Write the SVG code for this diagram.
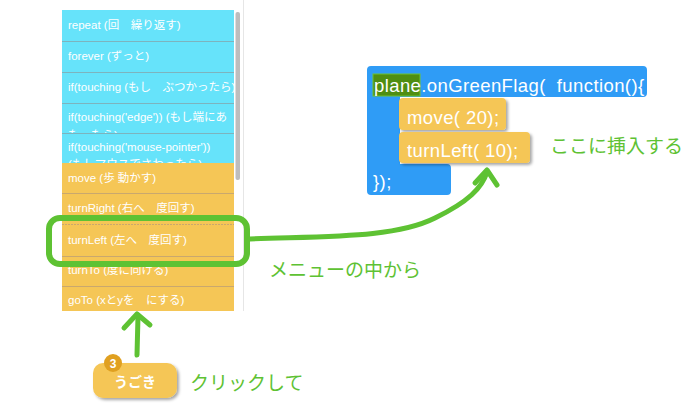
<svg xmlns="http://www.w3.org/2000/svg" width="700" height="411" viewBox="0 0 700 411">
<defs>
<style>
.mt{font-family:"Liberation Sans","Noto Sans CJK JP",sans-serif;font-size:11.5px;fill:#ffffff}
.cy{fill:#66e3fa}
.og{fill:#f5c656}
.cyl{stroke:#7db3bd;stroke-width:1}
.ogl{stroke:#c9a86e;stroke-width:1}
.code{font-family:"Liberation Sans","Noto Sans CJK JP",sans-serif;font-size:18.5px;letter-spacing:0.4px;fill:#ffffff}
.gl{font-family:"Noto Sans CJK JP","Liberation Sans",sans-serif;font-size:19px;fill:#5ec233}
.pen{fill:none;stroke:#5ec233;stroke-width:5;stroke-linecap:round;stroke-linejoin:round}
</style>
<filter id="sh" x="-20%" y="-20%" width="150%" height="160%">
<feDropShadow dx="2" dy="2" stdDeviation="1.5" flood-color="#000" flood-opacity="0.35"/>
</filter>
</defs>
<rect width="700" height="411" fill="#ffffff"/>

<g id="menu">
<rect x="243" y="0" width="1" height="311" fill="#e6e6e6"/>
<g id="row-repeat"><rect class="cy" x="62" y="10" width="172" height="31"/><text class="mt" x="68" y="29">repeat (回　繰り返す)</text></g>
<g id="row-forever"><rect class="cy" x="62" y="41" width="172" height="31"/><line class="cyl" x1="62" y1="41.5" x2="234" y2="41.5"/><text class="mt" x="68" y="60">forever (ずっと)</text></g>
<g id="row-if"><rect class="cy" x="62" y="72" width="172" height="31"/><line class="cyl" x1="62" y1="72.5" x2="234" y2="72.5"/><text class="mt" x="68" y="91">if(touching (もし　ぶつかったら)</text></g>
<g id="row-edge"><rect class="cy" x="62" y="103" width="172" height="30"/><line class="cyl" x1="62" y1="103.5" x2="234" y2="103.5"/><text class="mt" x="68" y="121">if(touching('edge')) (もし端にあ</text><text class="mt" x="68" y="139">たったら)</text></g>
<g id="row-mouse"><rect class="cy" x="62" y="133" width="172" height="30"/><line class="cyl" x1="62" y1="133.5" x2="234" y2="133.5"/><text class="mt" x="68" y="151">if(touching('mouse-pointer'))</text><text class="mt" x="68" y="168">(もしマウスでさわったら)</text></g>
<g id="row-move"><rect class="og" x="62" y="163" width="172" height="30"/><text class="mt" x="68" y="182">move (歩 動かす)</text></g>
<g id="row-turnRight"><rect class="og" x="62" y="193" width="172" height="31"/><line class="ogl" x1="62" y1="193.5" x2="234" y2="193.5"/><text class="mt" x="68" y="212">turnRight (右へ　度回す)</text></g>
<g id="row-turnLeft"><rect class="og" x="62" y="224" width="172" height="32"/><line class="ogl" x1="62" y1="224.5" x2="234" y2="224.5" stroke-dasharray="2 1"/><text class="mt" x="68" y="244">turnLeft (左へ　度回す)</text></g>
<g id="row-turnTo"><rect class="og" x="62" y="256" width="172" height="30"/><line class="ogl" x1="62" y1="256.5" x2="234" y2="256.5"/><text class="mt" x="68" y="274">turnTo (度に向ける)</text></g>
<g id="row-goTo"><rect class="og" x="62" y="286" width="172" height="25"/><line class="ogl" x1="62" y1="286.5" x2="234" y2="286.5"/><text class="mt" x="68" y="304">goTo (xとyを　にする)</text></g>
<rect x="235.5" y="12" width="4.5" height="168" rx="2" fill="#bdbdbd"/>
</g>

<g id="highlight">
<rect x="49" y="218" width="198" height="46" rx="11" fill="none" stroke="#5ec233" stroke-width="6"/>
</g>

<g id="code">
<path d="M371,66 H643 Q647,66 647,70 V93 Q647,97 643,97 H400 V164 H447 Q451,164 451,168 V191 Q451,195 447,195 H371 Q367,195 367,191 V70 Q367,66 371,66 Z" fill="#2f9cf6"/>
<rect x="373" y="74" width="47" height="22" fill="#4f8e12" stroke="#6fc130" stroke-width="1"/>
<text class="code" x="374" y="92">plane.onGreenFlag(&#160;&#160;function(){</text>
<g id="blk-move"><rect x="399" y="98" width="107" height="32" rx="4" fill="#f5c656" filter="url(#sh)"/><text class="code" x="407" y="124">move( 20);</text></g>
<g id="blk-turnLeft"><rect x="399" y="132" width="131" height="31" rx="4" fill="#f5c656" filter="url(#sh)"/><text class="code" x="407" y="157">turnLeft( 10);</text></g>
<text class="code" x="373" y="188">});</text>
</g>

<g id="button">
<rect x="93" y="363" width="84" height="35" rx="10" fill="#f5c656" filter="url(#sh)"/>
<text x="135" y="387" text-anchor="middle" font-family="Noto Sans CJK JP,sans-serif" font-weight="bold" font-size="14" fill="#ffffff">うごき</text>
<circle cx="113" cy="363" r="9" fill="#e0a020"/>
<text x="113" y="367.5" text-anchor="middle" font-family="Liberation Sans,sans-serif" font-weight="bold" font-size="12" fill="#ffffff">3</text>
</g>

<g id="connectors">
<path class="pen" d="M250,239 C330,236 395,238 435,218 C468,202 482,188 487,172"/>
<path class="pen" d="M475,183 L487,170 L497,185"/>
<path class="pen" d="M137,355 L138,316"/>
<path class="pen" d="M124,328 L137,314 L150,325"/>
</g>

<g id="labels">
<text class="gl" x="269" y="277" font-size="18.8">メニューの中から</text>
<text class="gl" x="550" y="153" font-size="19.5">ここに挿入する</text>
<text class="gl" x="190" y="390">クリックして</text>
</g>
</svg>
